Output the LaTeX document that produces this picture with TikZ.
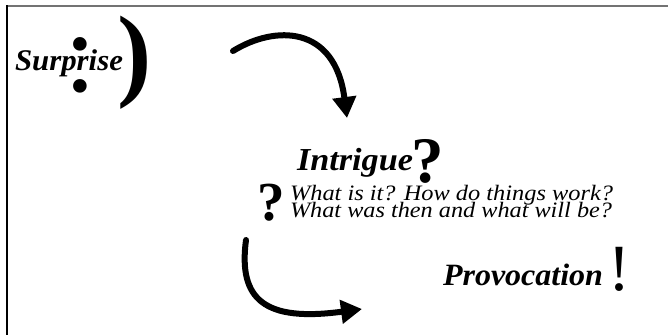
\documentclass[tikz,border=0pt]{standalone}
\usepackage{fontspec}
\setmainfont{Liberation Serif}[ItalicFont={Liberation Serif Italic},BoldFont={Liberation Serif Bold},BoldItalicFont={Liberation Serif Bold Italic}]
\usetikzlibrary{arrows.meta}
\tikzset{
  lbl/.style={inner sep=0pt, outer sep=0pt, anchor=base west},
  glyph/.style={inner sep=0pt, outer sep=0pt, anchor=base},
  bigarrow/.style={line width=6pt, line cap=round, -{Triangle[length=21pt,width=23pt]}},
}
\newcommand{\fs}[1]{\fontsize{#1}{#1}\selectfont}
\newcommand{\fitw}[2]{\resizebox{#1}{\height}{#2}}
\begin{document}
\begin{tikzpicture}[x=1pt,y=-1pt]
\useasboundingbox (0,0) rectangle (668,335);
\draw[black!55, line width=2pt] (6,5.5) -- (668,5.5);
\draw[line width=2pt] (7,5) -- (7,335);
% Surprise with smiley
\node[glyph] (colon) at (80,91) {\fs{115}:};
\node[glyph] (paren) at (135,87) {\fs{103}\bfseries )};
\node[lbl] (surprise) at (15,70) {\fitw{108pt}{\fs{30}\bfseries\itshape Surprise}};
% Intrigue
\node[lbl] (intrigue) at (297,170) {\fitw{116pt}{\fs{32}\bfseries\itshape Intrigue}};
\node[glyph] (q1) at (428,182) {\fs{65}\bfseries ?};
\node[glyph] (q2) at (271,220) {\fs{55}\bfseries ?};
\node[lbl] (line1) at (290,200) {\fitw{323pt}{\fs{22}\itshape What is it? How do things work?}};
\node[lbl] (line2) at (290,217) {\fitw{322pt}{\fs{22}\itshape What was then and what will be?}};
% Provocation
\node[lbl] (provocation) at (443,285) {\fitw{160pt}{\fs{31}\bfseries\itshape Provocation}};
\node[glyph] (excl) at (619,290) {\fs{66}!};
% arrows
\coordinate (a1s) at (233,51);
\coordinate (a1e) at (347,118);
\draw[bigarrow] (a1s) .. controls (275,25) and (335,25) .. (a1e);
\coordinate (a2s) at (246,240);
\coordinate (a2e) at (362,309);
\draw[bigarrow] (a2s) .. controls (238,300) and (265,322) .. (a2e);
\end{tikzpicture}
\end{document}
